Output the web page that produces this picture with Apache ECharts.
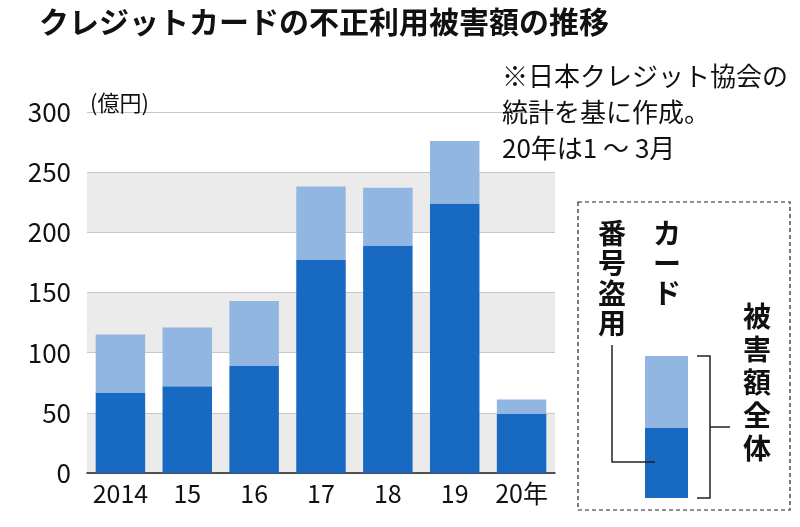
<!DOCTYPE html>
<html><head><meta charset="utf-8">
<script src="https://cdn.jsdelivr.net/npm/echarts@6/dist/echarts.min.js"></script>
<style>html,body{margin:0;padding:0;background:#fff}#c{width:800px;height:527px}</style>
</head><body><div id="c"></div>
<script>
const categories = ['2014','15','16','17','18','19','20年'];
const cardTheft = [67, 72, 89, 177, 189, 224, 49];
const totalDamage = [115, 121, 143, 238, 237, 276, 61];
const yTicks = [0, 50, 100, 150, 200, 250, 300];
const rest = totalDamage.map((t, i) => t - cardTheft[i]);
const DARK = '#1769c2', LIGHT = '#92b6e2';
const F = '"Noto Sans CJK JP", "Noto Sans", sans-serif';
const chart = echarts.init(document.getElementById('c'));
const vt = (s) => s.split('').join('\n');
chart.setOption({
  animation: false,
  title: {text: 'クレジットカードの不正利用被害額の推移', left: 34, top: 2,
    textStyle: {fontFamily: F, fontSize: 30, fontWeight: 'bold', color: '#111'}},
  grid: {left: 87, right: 245, top: 112, bottom: 54},
  xAxis: {type: 'category', data: categories,
    axisLine: {lineStyle: {color: '#222', width: 1.5}}, axisTick: {show: false},
    axisLabel: {fontFamily: F, fontSize: 25, color: '#111', margin: 8, interval: 0}},
  yAxis: {type: 'value', min: 0, max: 300, interval: 50,
    axisLine: {show: false}, axisTick: {show: false},
    axisLabel: {fontFamily: F, fontSize: 26, color: '#111', margin: 16,
      formatter: v => yTicks.includes(v) ? String(v) : ''},
    splitLine: {show: true, lineStyle: {color: '#c8c8c8', width: 1}},
    splitArea: {show: true, areaStyle: {color: ['#ebebeb', '#ffffff']}}},
  series: [
    {type: 'bar', stack: 's', data: cardTheft, barWidth: '74%', itemStyle: {color: DARK}},
    {type: 'bar', stack: 's', data: rest, itemStyle: {color: LIGHT}}
  ],
  graphic: [
    {type: 'text', z: 100, left: 90, top: 92, style: {text: '(億円)', fontFamily: F, fontSize: 22, fill: '#111'}},
    {type: 'text', z: 100, right: 12, top: 58, style: {text: '※日本クレジット協会の\n統計を基に作成。\n20年は1 ～ 3月',
      fontFamily: F, fontSize: 26, fill: '#111', align: 'right', lineHeight: 36}},
    {type: 'rect', z: 100, shape: {x: 578, y: 202, width: 212, height: 308},
      style: {fill: 'none', stroke: '#222', lineWidth: 1.2, lineDash: [4, 3]}},
    {type: 'rect', z: 100, shape: {x: 645, y: 356, width: 43, height: 72}, style: {fill: LIGHT}},
    {type: 'rect', z: 100, shape: {x: 645, y: 428, width: 43, height: 70}, style: {fill: DARK}},
    {type: 'text', z: 100, x: 667, y: 218, style: {text: vt('カード'), fontFamily: F, fontSize: 28, fontWeight: 'bold', fill: '#111', align: 'center', lineHeight: 30}},
    {type: 'text', z: 100, x: 612, y: 218, style: {text: vt('番号盗用'), fontFamily: F, fontSize: 28, fontWeight: 'bold', fill: '#111', align: 'center', lineHeight: 30}},
    {type: 'text', z: 100, x: 757, y: 300, style: {text: vt('被害額全体'), fontFamily: F, fontSize: 28, fontWeight: 'bold', fill: '#111', align: 'center', lineHeight: 33}},
    {type: 'polyline', z: 100, shape: {points: [[612, 345], [612, 462], [655, 462]]}, style: {stroke: '#222', lineWidth: 1.5, fill: 'none'}},
    {type: 'polyline', z: 100, shape: {points: [[697, 356], [710, 356], [710, 498], [697, 498]]}, style: {stroke: '#222', lineWidth: 1.5, fill: 'none'}},
    {type: 'line', z: 100, shape: {x1: 710, y1: 427, x2: 730, y2: 427}, style: {stroke: '#222', lineWidth: 1.5}}
  ]
});
</script></body></html>
